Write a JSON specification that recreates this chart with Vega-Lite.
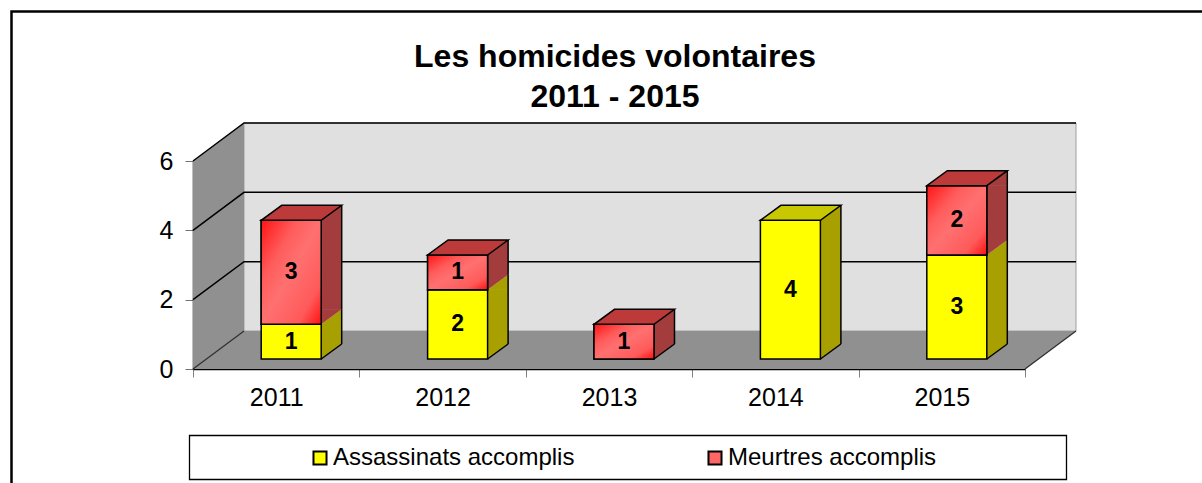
{
  "$schema": "https://vega.github.io/schema/vega-lite/v6.json",
  "width": 832,
  "height": 208,
  "autosize": "none",
  "padding": {"left": 193, "top": 161, "right": 177, "bottom": 114},
  "background": "white",
  "title": {
    "text": ["Les homicides volontaires", "2011 - 2015"],
    "fontSize": 32,
    "fontWeight": "bold",
    "font": "Liberation Sans",
    "color": "black",
    "anchor": "middle",
    "frame": "group",
    "dx": 6,
    "offset": -107,
    "lineHeight": 40
  },
  "config": {
    "axis": {"zindex": 1, "grid": false, "title": null},
    "axisX": {"tickBand": "extent", "labelAngle": 0, "labelFontSize": 25, "labelFont": "Liberation Sans", "labelColor": "black", "domainColor": "black", "domainWidth": 1.5, "tickColor": "#808080", "tickSize": 8, "labelPadding": 8},
    "axisY": {"labelFontSize": 25, "labelFont": "Liberation Sans", "labelColor": "black", "domainColor": "black", "domainWidth": 1.5, "tickColor": "#707070", "tickSize": 8, "labelPadding": 12}
  },
  "data": {
    "values": [
      {"year": "2011", "type": "Assassinats accomplis", "value": 1},
      {"year": "2011", "type": "Meurtres accomplis", "value": 3},
      {"year": "2012", "type": "Assassinats accomplis", "value": 2},
      {"year": "2012", "type": "Meurtres accomplis", "value": 1},
      {"year": "2013", "type": "Meurtres accomplis", "value": 1},
      {"year": "2014", "type": "Assassinats accomplis", "value": 4},
      {"year": "2015", "type": "Assassinats accomplis", "value": 3},
      {"year": "2015", "type": "Meurtres accomplis", "value": 2}
    ]
  },
  "transform": [
    {"stack": "value", "groupby": ["year"], "sort": [{"field": "type", "order": "ascending"}], "as": ["v0", "v1"]},
    {"joinaggregate": [{"op": "max", "field": "v1", "as": "top"}], "groupby": ["year"]}
  ],
  "resolve": {"scale": {"color": "independent"}},
  "layer": [
    {
      "data": {"values": [{"k": 1}]},
      "mark": {"type": "point", "shape": "M-264.7,140 L-264.7,-357.5 L960,-357.5", "size": 4, "filled": false, "stroke": "black", "strokeWidth": 2.5, "opacity": 1},
      "encoding": {
        "x": {"datum": "2011", "type": "nominal", "scale": {"domain": ["2011", "2012", "2013", "2014", "2015"], "paddingInner": 0, "paddingOuter": 0}, "title": null},
        "y": {"datum": 0, "type": "quantitative", "scale": {"domain": [0, 6], "nice": false}, "title": null}
      }
    },
    {
      "data": {"values": [{"k": 1}]},
      "mark": {"type": "point", "shape": "M-32.2,-38 L799.8,-38 L799.8,-246 L-32.2,-246 Z", "size": 4, "filled": true, "fill": "#E0E0E0", "stroke": "#A0A0A0", "strokeWidth": 1, "opacity": 1},
      "encoding": {"x": {"datum": "2011", "type": "nominal", "title": null}, "y": {"datum": 0, "type": "quantitative", "title": null}}
    },
    {
      "data": {"values": [{"k": 1}]},
      "mark": {"type": "point", "shape": "M-83.2,0 L-83.2,-208 L-32.2,-246 L-32.2,-38 Z", "size": 4, "filled": true, "fill": "#909090", "opacity": 1},
      "encoding": {"x": {"datum": "2011", "type": "nominal", "title": null}, "y": {"datum": 0, "type": "quantitative", "title": null}}
    },
    {
      "data": {"values": [{"k": 1}]},
      "mark": {"type": "point", "shape": "M-83.2,0 L748.8,0 L799.8,-38 L-32.2,-38 Z", "size": 4, "filled": true, "fill": "#909090", "opacity": 1},
      "encoding": {"x": {"datum": "2011", "type": "nominal", "title": null}, "y": {"datum": 0, "type": "quantitative", "title": null}}
    },
    {
      "data": {"values": [{"k": 1}]},
      "mark": {"type": "point", "shape": "M-83.2,0 L-32.2,-38 M748.8,0 L799.8,-38", "size": 4, "filled": false, "stroke": "#303030", "strokeWidth": 1.3, "opacity": 1},
      "encoding": {"x": {"datum": "2011", "type": "nominal", "title": null}, "y": {"datum": 0, "type": "quantitative", "title": null}}
    },
    {
      "data": {"values": [{"g": 2}, {"g": 4}, {"g": 6}]},
      "mark": {"type": "point", "shape": "M-83.2,0 L-32.2,-38 L799.8,-38", "size": 4, "filled": false, "stroke": "black", "strokeWidth": 1.5, "opacity": 1},
      "encoding": {"x": {"datum": "2011", "type": "nominal", "title": null}, "y": {"field": "g", "type": "quantitative", "title": null}}
    },
    {
      "mark": {"type": "bar", "width": 20.5, "xOffset": 55.25, "yOffset": -10.5, "y2Offset": -24.5},
      "encoding": {
        "x": {"field": "year", "type": "nominal", "title": null},
        "y": {"field": "v1", "type": "quantitative", "title": null},
        "y2": {"field": "v0"},
        "color": {"field": "type", "type": "nominal", "scale": {"domain": ["Assassinats accomplis", "Meurtres accomplis"], "range": ["#A8A000", "#A33C3C"]}, "legend": null}
      }
    },
    {
      "mark": {"type": "point", "shape": "M0,0 L20.5,-15 L20.5,0 Z", "size": 4, "filled": true, "opacity": 1, "xOffset": 45, "yOffset": -10},
      "encoding": {
        "x": {"field": "year", "type": "nominal", "title": null},
        "y": {"field": "v1", "type": "quantitative", "title": null},
        "color": {"field": "type", "type": "nominal", "scale": {"domain": ["Assassinats accomplis", "Meurtres accomplis"], "range": ["#A8A000", "#A33C3C"]}, "legend": null}
      }
    },
    {
      "mark": {"type": "point", "shape": "M0,0 L20.5,-15 L0,-15 Z", "size": 4, "filled": true, "opacity": 1, "xOffset": 45, "yOffset": -10},
      "encoding": {
        "x": {"field": "year", "type": "nominal", "title": null},
        "y": {"field": "v0", "type": "quantitative", "title": null},
        "color": {"field": "type", "type": "nominal", "scale": {"domain": ["Assassinats accomplis", "Meurtres accomplis"], "range": ["#A8A000", "#A33C3C"]}, "legend": null}
      }
    },
    {
      "mark": {"type": "rule", "xOffset": 65.5, "yOffset": -25, "y2Offset": -25, "color": "black", "strokeWidth": 1.5},
      "encoding": {
        "x": {"field": "year", "type": "nominal", "title": null},
        "y": {"field": "v1", "type": "quantitative", "title": null},
        "y2": {"field": "v0"}
      }
    },
    {
      "transform": [{"filter": "datum.v0 == 0"}],
      "mark": {"type": "point", "shape": "M0,0 L20.5,-15", "size": 4, "filled": false, "stroke": "black", "strokeWidth": 1.5, "opacity": 1, "xOffset": 45, "yOffset": -10},
      "encoding": {
        "x": {"field": "year", "type": "nominal", "title": null},
        "y": {"field": "v0", "type": "quantitative", "title": null}
      }
    },
    {
      "mark": {"type": "bar", "width": 60, "xOffset": 15, "yOffset": -10, "y2Offset": -10, "stroke": "black", "strokeWidth": 1.5},
      "encoding": {
        "x": {"field": "year", "type": "nominal", "title": null},
        "y": {"field": "v1", "type": "quantitative", "axis": {"values": [0, 2, 4, 6]}, "title": null},
        "y2": {"field": "v0"},
        "color": {
          "field": "type", "type": "nominal",
          "scale": {"domain": ["Assassinats accomplis", "Meurtres accomplis"], "range": ["#FFFF00", "#FF6666"]},
          "legend": {"orient": "none", "legendX": 115, "legendY": 285, "direction": "horizontal", "title": null, "symbolType": "square", "symbolSize": 170, "symbolStrokeColor": "black", "symbolStrokeWidth": 2, "symbolOpacity": 1, "labelFontSize": 24, "labelFont": "Liberation Sans", "labelColor": "black", "labelOffset": 1, "labelLimit": 500, "columnPadding": 128, "padding": 0}
        }
      }
    },
    {
      "transform": [{"filter": "datum.type == 'Meurtres accomplis'"}],
      "mark": {
        "type": "bar", "width": 60, "xOffset": 15, "yOffset": -10, "y2Offset": -10, "stroke": "black", "strokeWidth": 1.5,
        "fill": {"gradient": "linear", "x1": 0, "y1": 0, "x2": 1, "y2": 1, "stops": [{"offset": 0, "color": "#FF1414"}, {"offset": 0.3, "color": "#FF5C5C"}, {"offset": 0.5, "color": "#FF7070"}, {"offset": 0.8, "color": "#FF5A5A"}, {"offset": 1, "color": "#FF1010"}]}
      },
      "encoding": {
        "x": {"field": "year", "type": "nominal", "title": null},
        "y": {"field": "v1", "type": "quantitative", "title": null},
        "y2": {"field": "v0"}
      }
    },
    {
      "transform": [{"filter": "datum.v1 == datum.top"}],
      "mark": {"type": "point", "shape": "M0,0 L60,0 L80.5,-15 L20.5,-15 Z", "size": 4, "filled": true, "opacity": 1, "stroke": "black", "strokeWidth": 1.5, "xOffset": -15, "yOffset": -10},
      "encoding": {
        "x": {"field": "year", "type": "nominal", "title": null},
        "y": {"field": "v1", "type": "quantitative", "title": null},
        "color": {"field": "type", "type": "nominal", "scale": {"domain": ["Assassinats accomplis", "Meurtres accomplis"], "range": ["#C8C800", "#BC3A3A"]}, "legend": null}
      }
    },
    {
      "data": {"values": [{"k": 1}]},
      "mark": {"type": "point", "shape": "M-86.7,66.5 L790.3,66.5 L790.3,110.5 L-86.7,110.5 Z", "size": 4, "filled": true, "fill": "white", "stroke": "black", "strokeWidth": 1.3, "opacity": 1},
      "encoding": {"x": {"datum": "2011", "type": "nominal", "title": null}, "y": {"datum": 0, "type": "quantitative", "title": null}}
    },
    {
      "transform": [
        {"fold": ["v0", "v1"], "as": ["k", "pos"]},
        {"aggregate": [{"op": "mean", "field": "pos", "as": "mid"}], "groupby": ["year", "type", "value"]}
      ],
      "mark": {"type": "text", "xOffset": 15, "yOffset": -10, "fontSize": 23, "fontWeight": "bold", "font": "Liberation Sans", "color": "black", "baseline": "middle", "align": "center"},
      "encoding": {
        "x": {"field": "year", "type": "nominal", "title": null},
        "y": {"field": "mid", "type": "quantitative", "title": null},
        "text": {"field": "value", "type": "quantitative"}
      }
    }
  ]
}
